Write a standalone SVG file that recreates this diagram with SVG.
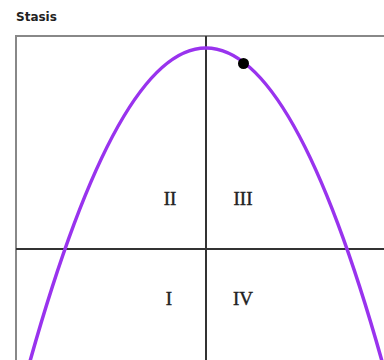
<svg xmlns="http://www.w3.org/2000/svg" width="384" height="360" viewBox="0 0 384 360">
<style>
.title{font-family:"DejaVu Sans",Verdana,sans-serif;font-weight:bold;font-size:12px;fill:#222}
.q{font-family:"Liberation Serif","Times New Roman",serif;font-size:19px;fill:#222;text-anchor:middle;stroke:#222;stroke-width:0.4}
.axis{stroke:#333;stroke-width:2;fill:none}
.frame{stroke:#888;stroke-width:2;fill:none}
.curve{stroke:#9933ee;stroke-width:3.5;fill:none}
</style>
<rect width="384" height="360" fill="#fff"/>
<text class="title" x="16" y="21">Stasis</text>
<g id="frame"><path class="frame" d="M16,362 V36 H386"/></g>
<g id="connectors">
<line class="axis" x1="206" y1="36" x2="206" y2="362"/>
<line class="axis" x1="16" y1="249" x2="386" y2="249"/>
<path class="curve" d="M30,361.2 Q206,-265.2 382,361.2"/>
</g>
<g id="point"><circle cx="243.5" cy="63.5" r="5.5" fill="#000"/></g>
<g id="q2"><text class="q" x="170" y="205">II</text></g>
<g id="q3"><text class="q" x="243" y="205">III</text></g>
<g id="q1"><text class="q" x="169" y="305">I</text></g>
<g id="q4"><text class="q" x="243" y="305">IV</text></g>
</svg>
